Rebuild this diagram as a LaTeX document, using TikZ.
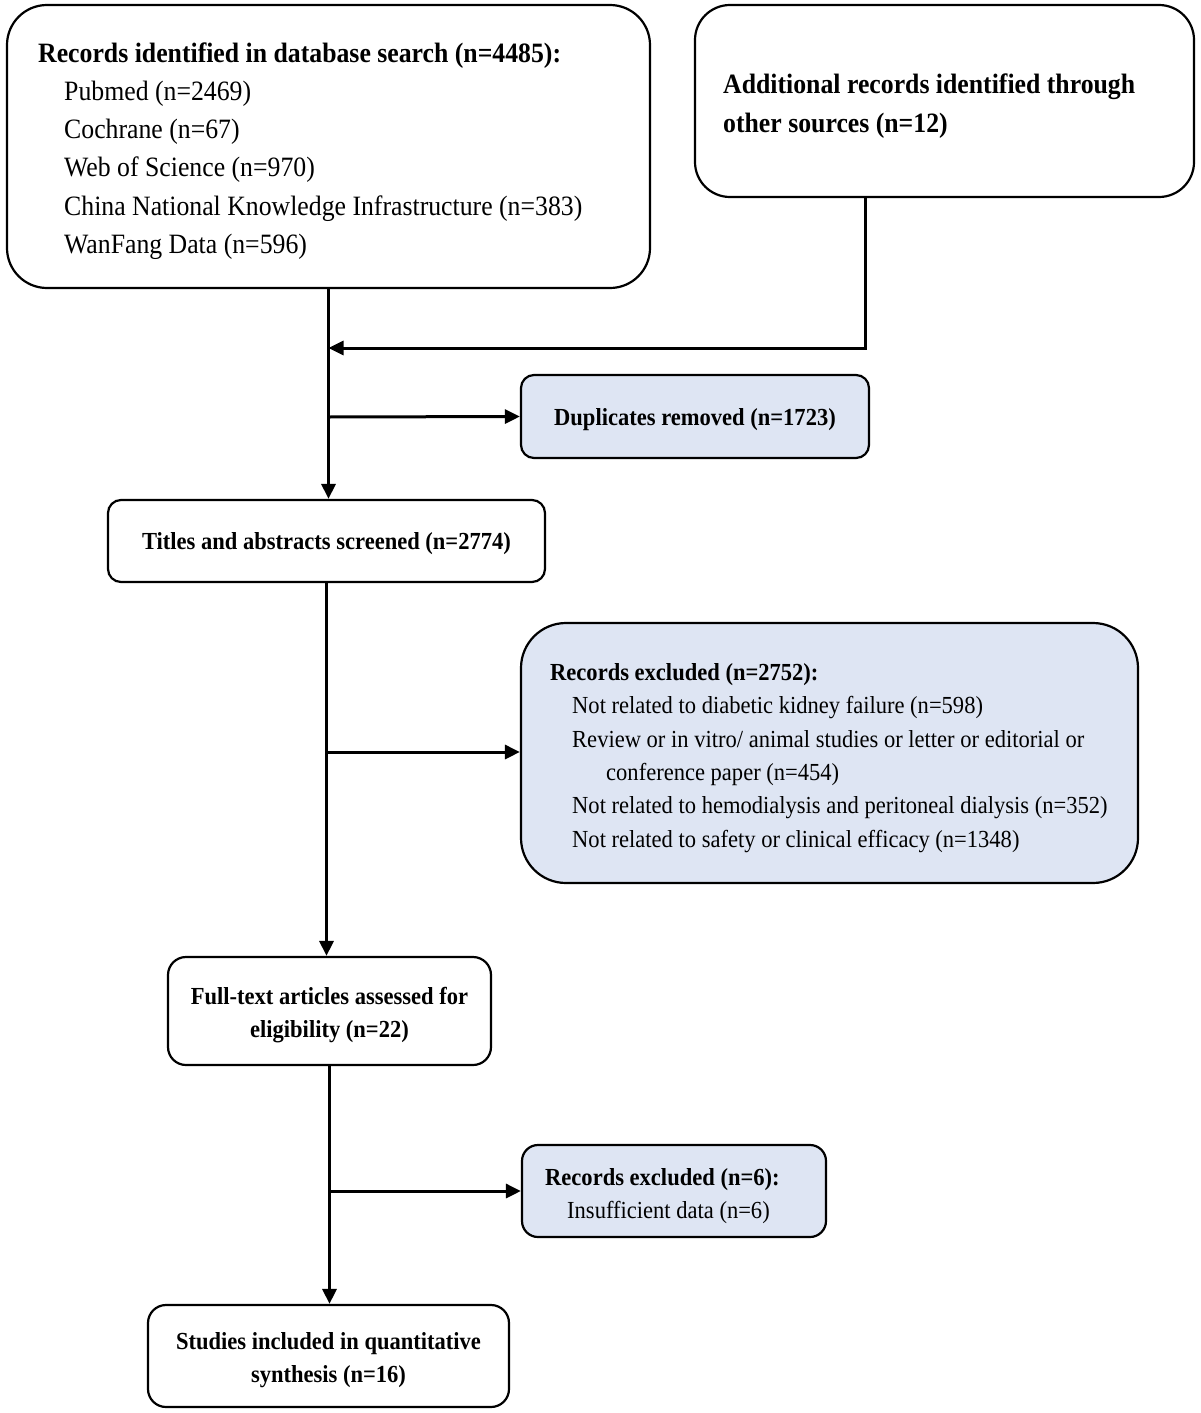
\documentclass[tikz,border=0pt]{standalone}
\usepackage{fontspec}
\setmainfont[FakeStretch=0.92]{Liberation Serif}
\usetikzlibrary{arrows.meta}
\definecolor{boxblue}{RGB}{222,229,243}
\begin{document}
\begin{tikzpicture}[x=1pt,y=-1pt,
  box/.style={draw=black,line width=2.2pt,rounded corners=#1,inner sep=0pt},
  box/.default=14pt,
  bluebox/.style={box=#1,fill=boxblue},
  bluebox/.default=14pt,
  arr/.style={line width=3pt,-{Triangle[length=15pt,width=14pt]}},
  bigtxt/.style={inner sep=0pt,font=\fontsize{28}{38.3}\selectfont,align=left},
  smalltxt/.style={inner sep=0pt,font=\fontsize{24.5}{33.4}\selectfont},
]
\useasboundingbox (0,0) rectangle (1200,1413);

% boxes
\node[box=40pt,minimum width=643pt,minimum height=283pt] (db) at (328.5,146.5) {};
\node[box=35pt,minimum width=499pt,minimum height=192pt] (add) at (944.5,101) {};
\node[bluebox=13pt,minimum width=348pt,minimum height=83pt] (dup) at (695,416.5) {};
\node[box=13pt,minimum width=437pt,minimum height=82pt] (tit) at (326.5,541) {};
\node[bluebox=45pt,minimum width=617pt,minimum height=260pt] (exc) at (829.5,753) {};
\node[box=18pt,minimum width=323pt,minimum height=108pt] (full) at (329.5,1011) {};
\node[bluebox=16pt,minimum width=304pt,minimum height=92pt] (exc2) at (674,1191) {};
\node[box=18pt,minimum width=361pt,minimum height=102pt] (stud) at (328.5,1356) {};

% texts
\node[bigtxt,anchor=west] (dbt) at (38,151) {\textbf{Records identified in database search (n=4485):}\\
\hspace*{26pt}Pubmed (n=2469)\\
\hspace*{26pt}Cochrane (n=67)\\
\hspace*{26pt}Web of Science (n=970)\\
\hspace*{26pt}China National Knowledge Infrastructure (n=383)\\
\hspace*{26pt}WanFang Data (n=596)};
\node[bigtxt,anchor=west] (addt) at (723,106) {\textbf{Additional records identified through}\\\textbf{other sources (n=12)}};
\node[smalltxt,yshift=-3pt] (dupt) at (dup.center) {\textbf{Duplicates removed (n=1723)}};
\node[smalltxt,yshift=-3pt] (titt) at (tit.center) {\textbf{Titles and abstracts screened (n=2774)}};
\node[smalltxt,align=left,anchor=west] (exct) at (550,758) {\textbf{Records excluded (n=2752):}\\
\hspace*{22pt}Not related to diabetic kidney failure (n=598)\\
\hspace*{22pt}Review or in vitro/ animal studies or letter or editorial or\\
\hspace*{56pt}conference paper (n=454)\\
\hspace*{22pt}Not related to hemodialysis and peritoneal dialysis (n=352)\\
\hspace*{22pt}Not related to safety or clinical efficacy (n=1348)};
\node[smalltxt,align=center,yshift=-4pt] (fullt) at (full.center) {\textbf{Full-text articles assessed for}\\\textbf{eligibility (n=22)}};
\node[smalltxt,align=left,anchor=west] (exc2t) at (545,1196) {\textbf{Records excluded (n=6):}\\\hspace*{22pt}Insufficient data (n=6)};
\node[smalltxt,align=center,yshift=-4pt] (studt) at (stud.center) {\textbf{Studies included in quantitative}\\\textbf{synthesis (n=16)}};

% connectors
\coordinate (merge) at (db.south |- 0,348);
\coordinate (b1) at (db.south |- 0,417);
\coordinate (b2) at (tit.south |- 0,752);
\coordinate (b3) at (full.south |- 0,1191);
\coordinate (corner) at (865,348);
\draw[arr] (add.south -| corner) -- (corner) -- (merge);
\draw[arr] (db.south) -- (db.south |- tit.north);
\draw[arr] (b1) -- (dup.west);
\draw[arr] (tit.south) -- (tit.south |- full.north);
\draw[arr] (b2) -- (exc.west |- b2);
\draw[arr] (full.south) -- (full.south |- stud.north);
\draw[arr] (b3) -- (exc2.west |- b3);
\end{tikzpicture}
\end{document}
